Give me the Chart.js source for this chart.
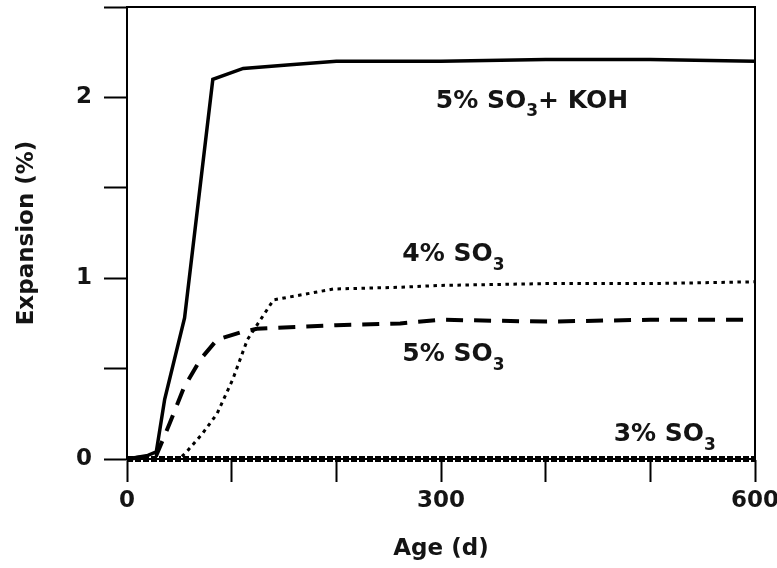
<!DOCTYPE html>
<html>
<head>
<meta charset="utf-8">
<script src="https://cdn.jsdelivr.net/npm/chart.js@4/dist/chart.umd.min.js"></script>
<style>
  html, body { margin: 0; padding: 0; background: #fff; }
  #wrap { width: 777px; height: 568px; }
</style>
</head>
<body>
<div id="wrap"><canvas id="mycanvas" width="777" height="568"></canvas></div>
<script>
// data: age in days, expansion in %
var koh_days = [0, 10, 20, 28, 36, 55, 82, 111, 156, 200, 300, 400, 500, 600];
var koh_exp  = [0, 0.01, 0.02, 0.04, 0.33, 0.78, 2.10, 2.16, 2.18, 2.20, 2.20, 2.21, 2.21, 2.20];

var so3_4_days = [0, 50, 57, 72, 86, 101, 115, 140, 197, 261, 300, 400, 500, 600];
var so3_4_exp  = [0, 0, 0.04, 0.14, 0.25, 0.44, 0.66, 0.88, 0.94, 0.95, 0.96, 0.97, 0.97, 0.98];

var so3_5_days = [0, 28, 41, 54, 70, 86, 108, 124, 200, 261, 300, 400, 500, 600];
var so3_5_exp  = [0, 0.02, 0.2, 0.39, 0.55, 0.66, 0.70, 0.72, 0.74, 0.75, 0.77, 0.76, 0.77, 0.77];

var so3_3_days = [0, 100, 200, 300, 400, 500, 600];
var so3_3_exp  = [0, 0, 0, 0, 0, 0, 0];

var x_ticks_shown = [0, 300, 600];
var y_ticks_shown = [0, 1, 2];

// curve labels: text before subscript, subscript, text after, anchor (data units)
var label_pre  = ["5% SO", "4% SO", "5% SO", "3% SO"];
var label_sub  = ["3", "3", "3", "3"];
var label_post = ["+ KOH", "", "", ""];
var label_x    = [295, 263, 263, 465];
var label_y    = [1.98, 1.13, 0.576, 0.133];

function pts(xs, ys) {
  var out = [];
  for (var i in xs) {
    out.push({x: xs[i], y: ys[i]});
  }
  return out;
}

var FONT = "'DejaVu Sans', sans-serif";
var INK = "#141414";

var framePlugin = {
  id: 'frame',
  afterDraw: function(chart) {
    var ctx = chart.ctx;
    var a = chart.chartArea;
    ctx.save();
    ctx.strokeStyle = "#000";
    ctx.lineWidth = 2;
    ctx.beginPath();
    ctx.moveTo(a.left, a.top);
    ctx.lineTo(a.right, a.top);
    ctx.lineTo(a.right, a.bottom);
    ctx.stroke();
    ctx.restore();
  }
};

var labelPlugin = {
  id: 'curveLabels',
  afterDraw: function(chart) {
    var ctx = chart.ctx;
    var xs = chart.scales.x, ys = chart.scales.y;
    ctx.save();
    ctx.fillStyle = INK;
    ctx.textBaseline = "middle";
    ctx.textAlign = "left";
    for (var i = 0; i < label_pre.length; i++) {
      var px = xs.getPixelForValue(label_x[i]);
      var py = ys.getPixelForValue(label_y[i]);
      ctx.font = "bold 25px " + FONT;
      ctx.fillText(label_pre[i], px, py);
      px += ctx.measureText(label_pre[i]).width;
      ctx.font = "bold 17px " + FONT;
      ctx.fillText(label_sub[i], px, py + 11);
      px += ctx.measureText(label_sub[i]).width;
      if (label_post[i]) {
        ctx.font = "bold 25px " + FONT;
        ctx.fillText(label_post[i], px, py);
      }
    }
    ctx.restore();
  }
};

var ctx = document.getElementById("mycanvas");

var chartdata = {
  datasets: [
    {
      label: "5% SO3 + KOH",
      data: pts(koh_days, koh_exp),
      borderColor: "#000",
      borderWidth: 3.5,
      pointRadius: 0,
      fill: false,
      clip: 4,
      tension: 0
    },
    {
      label: "4% SO3",
      data: pts(so3_4_days, so3_4_exp),
      borderColor: "#000",
      borderWidth: 3,
      borderDash: [3.5, 4.5],
      pointRadius: 0,
      fill: false,
      clip: 4,
      tension: 0
    },
    {
      label: "5% SO3",
      data: pts(so3_5_days, so3_5_exp),
      borderColor: "#000",
      borderWidth: 4,
      borderDash: [17, 11],
      pointRadius: 0,
      fill: false,
      clip: 4,
      tension: 0
    },
    {
      label: "3% SO3",
      data: pts(so3_3_days, so3_3_exp),
      borderColor: "#000",
      borderWidth: 6,
      borderDash: [6, 2],
      pointRadius: 0,
      fill: false,
      clip: 4,
      tension: 0
    }
  ]
};

var LineGraph = new Chart(ctx, {
  type: 'line',
  data: chartdata,
  plugins: [framePlugin, labelPlugin],
  options: {
    responsive: false,
    animation: false,
    layout: { padding: { top: 7, right: 22, left: 0, bottom: 0 } },
    plugins: {
      legend: { display: false },
      tooltip: { enabled: false }
    },
    scales: {
      x: {
        type: 'linear',
        min: 0,
        max: 600,
        afterFit: function(scale) {
          scale.height = 109;
          scale.paddingLeft = 0;
          scale.paddingRight = 0;
        },
        border: { display: true, color: "#000", width: 2 },
        grid: {
          drawOnChartArea: false,
          drawTicks: true,
          tickLength: 23,
          tickColor: "#000",
          tickWidth: 2
        },
        ticks: {
          stepSize: 100,
          autoSkip: false,
          maxRotation: 0,
          padding: 5,
          color: INK,
          font: { family: FONT, size: 23, weight: 'bold' },
          callback: function(v) { return x_ticks_shown.indexOf(v) >= 0 ? String(v) : ""; }
        },
        title: {
          display: true,
          text: "Age (d)",
          color: INK,
          padding: { top: 0, bottom: 5 },
          font: { family: FONT, size: 23, weight: 'bold' }
        }
      },
      y: {
        min: 0,
        max: 2.5,
        afterFit: function(scale) {
          scale.width = 127;
          scale.paddingTop = 0;
          scale.paddingBottom = 0;
        },
        border: { display: true, color: "#000", width: 2 },
        grid: {
          drawOnChartArea: false,
          drawTicks: true,
          tickLength: 23,
          tickColor: "#000",
          tickWidth: 2
        },
        ticks: {
          stepSize: 0.5,
          autoSkip: false,
          padding: 12,
          color: INK,
          font: { family: FONT, size: 23, weight: 'bold' },
          callback: function(v) { return y_ticks_shown.indexOf(v) >= 0 ? String(v) : ""; }
        },
        title: {
          display: true,
          text: "Expansion (%)",
          color: INK,
          padding: { top: 13, bottom: 0 },
          font: { family: FONT, size: 23, weight: 'bold' }
        }
      }
    }
  }
});
</script>
</body>
</html>
